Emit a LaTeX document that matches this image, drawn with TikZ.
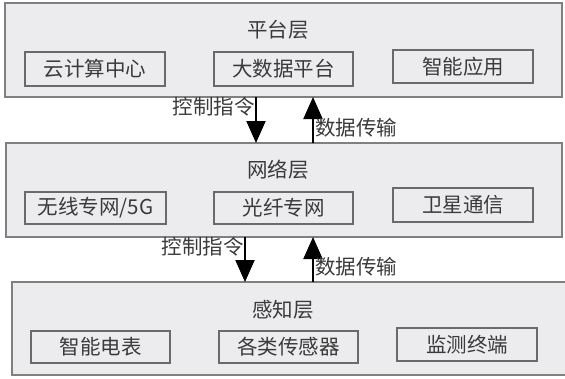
\documentclass[tikz,border=0pt]{standalone}
\usepackage{fontspec}
\setmainfont{Noto Sans CJK SC}
\usetikzlibrary{arrows.meta}
\definecolor{boxfill}{HTML}{ECECEE}
\definecolor{outerline}{HTML}{808080}
\definecolor{innerline}{HTML}{6A6A6A}
\definecolor{txt}{HTML}{3A3A3A}
\begin{document}
\begin{tikzpicture}[x=1pt,y=-1pt,
  layer/.style={draw=outerline,fill=boxfill,line width=1.2pt},
  inner/.style={draw=innerline,fill=boxfill,line width=1.1pt},
  lbl/.style={font=\fontsize{20.5}{20.5}\selectfont,text=txt,inner sep=0pt},
  flow/.style={line width=2pt,draw=black,-{Triangle[width=19pt,length=22pt]}}]
\useasboundingbox (0,0) rectangle (565,378);
% layers
\draw[layer] (5,3) rectangle (562,97);
\draw[layer] (6,143) rectangle (562,237);
\draw[layer] (12,282) rectangle (566,375);
\node[lbl] (t1) at (278,30) {平台层};
\node[lbl] (t2) at (278,170) {网络层};
\node[lbl] (t3) at (283,310) {感知层};
% inner boxes: platform
\draw[inner] (25,52) rectangle (165,86);
\node[lbl] (a1) at (95,69) {云计算中心};
\draw[inner] (214,52) rectangle (353,86);
\node[lbl] (a2) at (283.5,69) {大数据平台};
\draw[inner] (393,50) rectangle (533,83);
\node[lbl] (a3) at (463,66.5) {智能应用};
% network
\draw[inner] (25,192) rectangle (166,224);
\node[lbl] (b1) at (95.5,208) {无线专网/5G};
\draw[inner] (214,192) rectangle (353,224);
\node[lbl] (b2) at (283.5,208) {光纤专网};
\draw[inner] (393,188) rectangle (533,222);
\node[lbl] (b3) at (463,205) {卫星通信};
% perception
\draw[inner] (31,331) rectangle (170,363);
\node[lbl] (c1) at (100.5,347) {智能电表};
\draw[inner] (219,331) rectangle (358,363);
\node[lbl] (c2) at (288.5,347) {各类传感器};
\draw[inner] (397,328) rectangle (537,361);
\node[lbl] (c3) at (467,344.5) {监测终端};
% arrows
\coordinate (d1s) at (256,97);
\coordinate (d1e) at (256,143);
\coordinate (u1s) at (313,143);
\coordinate (u1e) at (313,97);
\coordinate (d2s) at (245,237);
\coordinate (d2e) at (245,282);
\coordinate (u2s) at (313,282);
\coordinate (u2e) at (313,237);
\draw[flow] (d1s) -- (d1e);
\draw[flow] (u1s) -- (u1e);
\draw[flow] (d2s) -- (d2e);
\draw[flow] (u2s) -- (u2e);
\node[lbl,anchor=east] (l1) at (255,107) {控制指令};
\node[lbl,anchor=west] (l2) at (315,128) {数据传输};
\node[lbl,anchor=east] (l3) at (244,247) {控制指令};
\node[lbl,anchor=west] (l4) at (315,267) {数据传输};
\end{tikzpicture}
\end{document}
